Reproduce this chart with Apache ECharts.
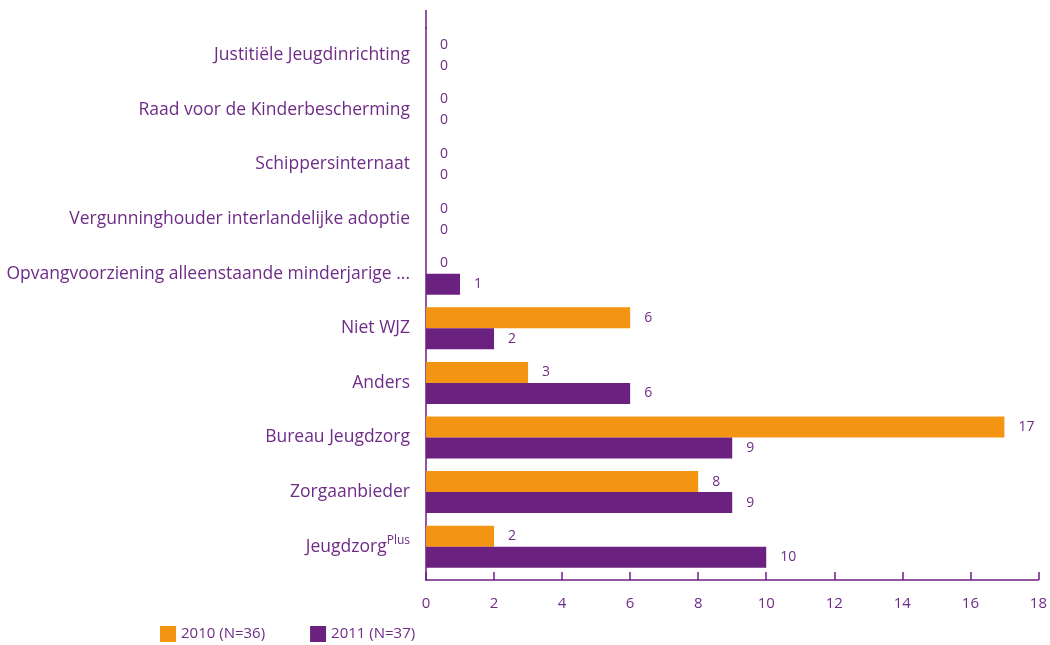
<!DOCTYPE html>
<html>
<head>
<meta charset="utf-8">
<script src="https://cdn.jsdelivr.net/npm/echarts@6/dist/echarts.min.js"></script>
<style>
  html, body { margin: 0; padding: 0; background: #fff; }
  #chart { width: 1050px; height: 645px; }
</style>
</head>
<body>
<div id="chart"></div>
<script>
// bottom to top, as in the picture
const categories = [
  'JeugdzorgPlus',
  'Zorgaanbieder',
  'Bureau Jeugdzorg',
  'Anders',
  'Niet WJZ',
  'Opvangvoorziening alleenstaande minderjarige ...',
  'Vergunninghouder interlandelijke adoptie',
  'Schippersinternaat',
  'Raad voor de Kinderbescherming',
  'Justitiële Jeugdinrichting'
]
const values2010 = [2, 8, 17, 3, 6, 0, 0, 0, 0, 0]
const values2011 = [10, 9, 9, 6, 2, 1, 0, 0, 0, 0]
const seriesNames = ['2010 (N=36)', '2011 (N=37)']
const xTicks = { min: 0, max: 18, interval: 2 }

const purple = '#6a2180'
const orange = '#f39512'
const textColor = '#6f2c87'
const font = 'Open Sans'

const chart = echarts.init(document.getElementById('chart'))

const valueLabel = {
  show: true,
  position: 'right',
  distance: 14,
  color: textColor,
  fontFamily: font,
  fontSize: 14
}

chart.setOption({
  animation: false,
  grid: { left: 426, right: 11, top: 28, bottom: 71, containLabel: false },
  legend: {
    left: 160,
    top: 626,
    padding: 0,
    itemWidth: 16,
    itemHeight: 16,
    itemGap: 45,
    icon: 'rect',
    textStyle: { color: textColor, fontFamily: font, fontSize: 15 },
    data: seriesNames
  },
  xAxis: {
    type: 'value',
    min: xTicks.min,
    max: xTicks.max,
    interval: xTicks.interval,
    offset: 6,
    splitLine: { show: false },
    axisLine: { show: true, lineStyle: { color: purple, width: 1.5 } },
    axisTick: { show: true, inside: true, length: 8, lineStyle: { color: purple, width: 1.5 } },
    axisLabel: { color: textColor, fontFamily: font, fontSize: 15, margin: 16 }
  },
  yAxis: {
    type: 'category',
    data: categories,
    axisLine: { show: true, lineStyle: { color: purple, width: 1.5 } },
    axisTick: { show: false },
    axisLabel: {
      color: textColor,
      fontFamily: font,
      fontSize: 17.5,
      margin: 16,
      formatter: v => v === 'JeugdzorgPlus' ? 'Jeugdzorg{sup|Plus}' : v,
      rich: {
        sup: { fontSize: 12, color: textColor, fontFamily: font, verticalAlign: 'top', padding: [0, 0, 12, 0] }
      }
    }
  },
  graphic: [{
    // axis line runs a little above the top category
    type: 'line',
    shape: { x1: 426, y1: 10, x2: 426, y2: 29 },
    style: { stroke: purple, lineWidth: 1.5 }
  }, {
    type: 'line',
    shape: { x1: 426, y1: 574, x2: 426, y2: 581 },
    style: { stroke: purple, lineWidth: 1.5 }
  }],
  series: [{
    name: seriesNames[0],
    type: 'bar',
    data: values2010,
    itemStyle: { color: orange },
    barGap: '0%',
    barCategoryGap: '23%',
    label: valueLabel
  }, {
    name: seriesNames[1],
    type: 'bar',
    data: values2011,
    itemStyle: { color: purple },
    barGap: '0%',
    barCategoryGap: '23%',
    label: valueLabel
  }]
})
</script>
</body>
</html>
